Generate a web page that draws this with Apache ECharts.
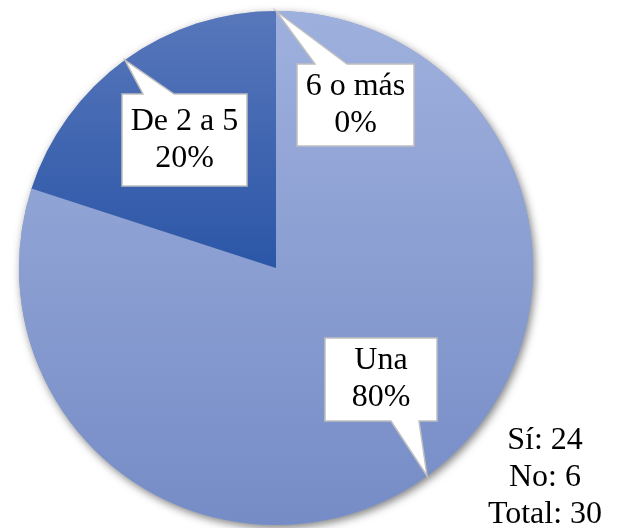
<!DOCTYPE html>
<html><head><meta charset="utf-8">
<script src="https://cdn.jsdelivr.net/npm/echarts@6/dist/echarts.min.js"></script>
<style>html,body{margin:0;padding:0;background:#fff}#c{width:617px;height:528px}</style>
</head><body><div id="c"></div>
<script>
const categories = ['Una', 'De 2 a 5', '6 o más'];
const values = [24, 6, 0];
const summaryNames = ['Sí', 'No', 'Total'];
const summaryValues = [24, 6, 30];

const FONT = '"Liberation Serif","Times New Roman",serif';
const chart = echarts.init(document.getElementById('c'), null, {renderer: 'canvas'});
const grad = (a, b) => new echarts.graphic.LinearGradient(0, 0, 0, 1, [{offset: 0, color: a}, {offset: 1, color: b}]);
const sliceColors = [grad('#9EB0DD', '#768CC6'), grad('#5877BB', '#2B56A7'), grad('#9EB0DD', '#768CC6')];

const pieBase = {
  type: 'pie', center: [276, 268], radius: 257, startAngle: 90, clockwise: true,
  stillShowZeroSum: true, avoidLabelOverlap: false, silent: true,
  label: {show: false}, labelLine: {show: false}
};

chart.setOption({
  animation: false,
  series: [
    Object.assign({}, pieBase, {
      z: 1,
      itemStyle: {color: '#8a9cd2', shadowBlur: 8, shadowColor: 'rgba(0,0,0,0.5)', shadowOffsetX: 2, shadowOffsetY: 3},
      data: categories.map((n, i) => ({name: n, value: values[i]}))
    }),
    Object.assign({}, pieBase, {
      z: 2,
      itemStyle: {borderWidth: 0},
      data: categories.map((n, i) => ({name: n, value: values[i], itemStyle: {color: sliceColors[i]}}))
    })
  ]
});

// callout box layout (positions only)
const boxes = [
  {x: 325, y: 338, w: 112, h: 83, side: 'bottom', b0: 391, b1: 419},
  {x: 122, y: 94, w: 125, h: 92, side: 'top', b0: 143, b1: 174},
  {x: 297, y: 64, w: 117, h: 82, side: 'top', b0: 315, b1: 347}
];

const total = values.reduce((a, b) => a + b, 0);
const sdata = chart.getModel().getSeriesByIndex(1).getData();
const elements = [];
categories.forEach((name, i) => {
  const L = sdata.getItemLayout(i);
  const mid = (L.startAngle + L.endAngle) / 2;
  const tx = L.cx + L.r * Math.cos(mid), ty = L.cy + L.r * Math.sin(mid);
  const b = boxes[i];
  let pts;
  if (b.side === 'top') {
    pts = [[b.x, b.y], [b.b0, b.y], [tx, ty], [b.b1, b.y], [b.x + b.w, b.y], [b.x + b.w, b.y + b.h], [b.x, b.y + b.h]];
  } else {
    pts = [[b.x, b.y], [b.x + b.w, b.y], [b.x + b.w, b.y + b.h], [b.b1, b.y + b.h], [tx, ty], [b.b0, b.y + b.h], [b.x, b.y + b.h]];
  }
  elements.push({type: 'polygon', z: 10, shape: {points: pts}, style: {fill: '#fff', stroke: '#BFBFBF', lineWidth: 1.5}});
  const pct = Math.round(values[i] / total * 100);
  elements.push({type: 'text', z: 11, x: b.x + b.w / 2, y: b.y + b.h / 2,
    style: {text: name + '\n' + pct + '%', align: 'center', verticalAlign: 'middle', fontSize: 32, fontFamily: FONT, lineHeight: 37, fill: '#000'}});
});
elements.push({type: 'text', z: 11, x: 545, y: 478,
  style: {text: summaryNames.map((n, i) => n + ': ' + summaryValues[i]).join('\n'), align: 'center', verticalAlign: 'middle', fontSize: 32, fontFamily: FONT, lineHeight: 37, fill: '#000'}});
chart.setOption({graphic: {elements: elements}});
</script></body></html>
